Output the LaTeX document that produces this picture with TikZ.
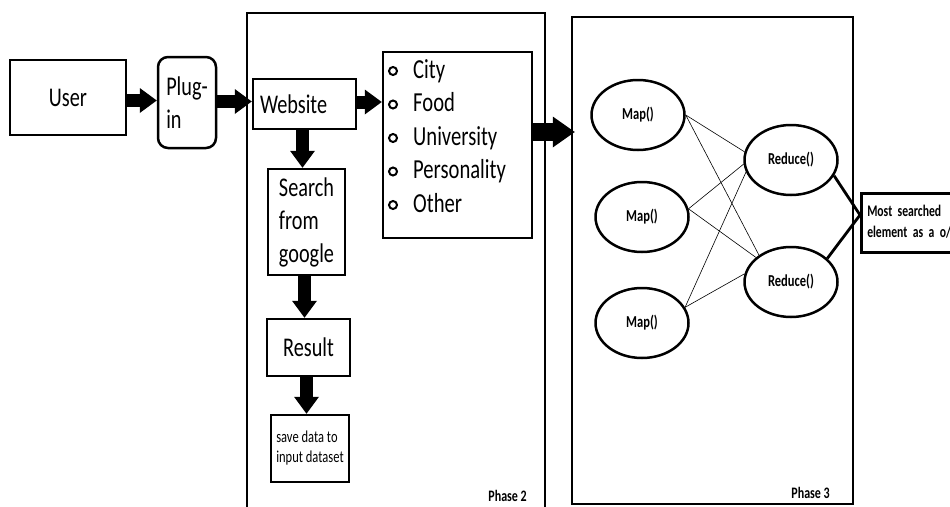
\documentclass[tikz,border=0pt]{standalone}
\usepackage{fontspec}
\setmainfont[FakeStretch=0.75]{Carlito}
\newfontfamily\outfont[FakeStretch=0.72, WordSpace=0.7]{Carlito}
\usetikzlibrary{shapes.geometric,arrows.meta}

\begin{document}
\begin{tikzpicture}[
    x=1pt, y=-1pt,
    box/.style={rectangle, draw, line width=2.5pt, align=center, font=\fontsize{27}{33}\selectfont},
    smallbox/.style={rectangle, draw, line width=2.5pt, align=left, font=\fontsize{16.7}{20}\selectfont},
    mapnode/.style={ellipse, draw, line width=2.5pt, minimum width=93pt, minimum height=70pt, inner sep=0pt, font=\bfseries\fontsize{16.7}{18}\selectfont},
    item/.style={anchor=base west, inner sep=0pt, font=\fontsize{27.5}{30}\selectfont},
    bullet/.style={circle, draw, line width=2pt, minimum size=8pt, inner sep=0pt},
    phase/.style={anchor=base east, inner sep=0pt, font=\bfseries\fontsize{16}{18}\selectfont},
    arrow/.style={line width=13pt, -{Triangle[length=17pt, width=25pt, line width=0pt]}},
    bigarrow/.style={line width=18pt, -{Triangle[length=22pt, width=31pt, line width=0pt]}},
    link/.style={line width=0.6pt},
    outlink/.style={line width=2.8pt}
]
\useasboundingbox (0,0) rectangle (950,506);

% Phase frames
\draw[line width=2.5pt] (247,512) |- (545,13) -- (545,512);
\node[draw, line width=2.5pt, minimum width=281pt, minimum height=487pt] (phase3) at (712.5,260.5) {};
\node[phase] (p2label) at (527,501) {Phase 2};
\node[phase] (p3label) at (830,498) {Phase 3};

% Phase 1
\node[box, minimum width=116pt, minimum height=75pt] (user) at (68,97.5) {User};
\node[box, rounded corners=10pt, align=left, minimum width=58pt, minimum height=91pt] (plugin) at (187,102.5) {Plug-\\in};

% Phase 2
\node[box, align=left, text width=89pt, inner xsep=7pt, minimum height=50pt] (website) at (304.5,104) {Website};
\node[box, minimum width=149pt, minimum height=186pt] (list) at (457.5,145) {};
\node[item] (city) at (413,78) {City};
\node[item] (food) at (413,111.5) {Food};
\node[item] (univ) at (413,145) {University};
\node[item] (person) at (413,178.5) {Personality};
\node[item] (other) at (413,212) {Other};
\node[bullet] (b1) at (393,71) {};
\node[bullet] (b2) at (393,104.5) {};
\node[bullet] (b3) at (393,138) {};
\node[bullet] (b4) at (393,171.5) {};
\node[bullet] (b5) at (393,205) {};

\node[box, align=left, minimum width=77pt, minimum height=106pt] (search) at (306.5,222) {Search\\from\\google};
\node[box, minimum width=83pt, minimum height=57pt] (result) at (308.5,347.5) {Result};
\node[smallbox, minimum width=78pt, minimum height=67pt] (save) at (310,448.5) {save data to\\input dataset};

% Phase 3
\node[mapnode] (map1) at (638,115) {Map()};
\node[mapnode] (map2) at (642,217) {Map()};
\node[mapnode] (map3) at (642,323) {Map()};
\node[mapnode] (red1) at (791,160) {Reduce()};
\node[mapnode] (red2) at (791,282) {Reduce()};
\node[smallbox, anchor=west, text width=130pt, inner xsep=6pt, minimum height=59pt, font=\outfont\bfseries\fontsize{16.2}{21}\selectfont] (out) at (860,223) {Most searched\\element as a o/p};

% Arrows
\draw[arrow] ([yshift=-3pt]user.east) -- ([yshift=-3pt]user.east -| plugin.west);
\draw[arrow] ([yshift=1pt]plugin.east) -- ([yshift=1pt]plugin.east -| website.west);
\draw[arrow] ([yshift=2pt]website.east) -- ([yshift=2pt]website.east -| list.west);
\draw[bigarrow] ([yshift=13pt]list.east) -- ([yshift=13pt,xshift=4pt]list.east -| phase3.west);
\draw[arrow] ([xshift=-2pt]website.south) -- ([xshift=-2pt]website.south |- search.north);
\draw[arrow] ([xshift=-2pt]search.south) -- ([xshift=-2pt]search.south |- result.north);
\draw[arrow] ([xshift=-2pt]result.south) -- ([xshift=-2pt]result.south |- save.north);

% Map to reduce links
\draw[link] (map1.east) -- (red1.170);
\draw[link] (map1.east) -- (red2.140);
\draw[link] (map2.10) -- (red1.185);
\draw[link] (map2.10) -- (red2.145);
\draw[link] (map3.20) -- (red1.195);
\draw[link] (map3.20) -- (red2.170);
\draw[outlink] (red1.-20) -- ([yshift=8pt]out.west);
\draw[outlink] (red2.33) -- ([yshift=8pt]out.west);

\end{tikzpicture}
\end{document}
